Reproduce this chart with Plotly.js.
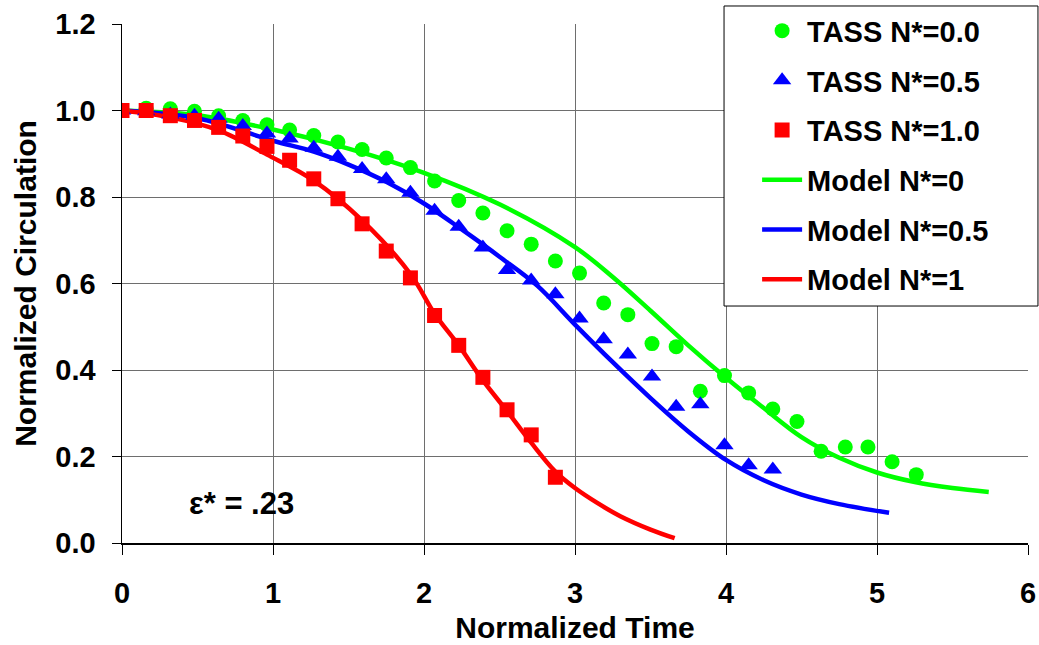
<!DOCTYPE html>
<html>
<head>
<meta charset="utf-8">
<script src="https://cdn.plot.ly/plotly-3.0.1.min.js"></script>
<style>html,body{margin:0;padding:0;background:#fff;}#chart{width:1039px;height:645px;}</style>
</head>
<body>
<div id="chart"></div>
<script>
// TASS simulation samples (normalized time)
const tassTime = [0, 0.16, 0.32, 0.48, 0.64, 0.80, 0.96, 1.11, 1.27, 1.43, 1.59, 1.75, 1.91, 2.07, 2.23, 2.39, 2.55, 2.71, 2.87, 3.03, 3.19, 3.35, 3.51, 3.67, 3.83, 3.99, 4.15, 4.31, 4.47, 4.63, 4.79, 4.94, 5.10, 5.26];
const tassN00 = [1.000, 1.005, 1.004, 0.998, 0.988, 0.977, 0.967, 0.955, 0.942, 0.927, 0.910, 0.890, 0.868, 0.837, 0.792, 0.763, 0.722, 0.691, 0.652, 0.624, 0.555, 0.528, 0.461, 0.454, 0.351, 0.387, 0.347, 0.310, 0.281, 0.212, 0.222, 0.222, 0.188, 0.158];
const tassN05 = [1.000, 0.998, 0.991, 0.988, 0.981, 0.964, 0.947, 0.935, 0.914, 0.893, 0.865, 0.841, 0.810, 0.768, 0.731, 0.683, 0.631, 0.607, 0.575, 0.519, 0.471, 0.436, 0.385, 0.315, 0.321, 0.226, 0.180, 0.170];
const tassN10 = [1.000, 1.000, 0.988, 0.977, 0.961, 0.941, 0.917, 0.885, 0.842, 0.796, 0.738, 0.675, 0.613, 0.526, 0.457, 0.383, 0.308, 0.250, 0.152];

// Model curves
const modelTime0 = [0, 0.5, 1.0, 1.5, 2.0, 2.5, 3.0, 3.25, 3.5, 3.75, 4.0, 4.25, 4.5, 4.75, 5.0, 5.25, 5.5, 5.74];
const modelN0 = [1.000, 0.989, 0.956, 0.912, 0.856, 0.783, 0.684, 0.615, 0.537, 0.457, 0.382, 0.312, 0.245, 0.197, 0.163, 0.141, 0.127, 0.118];
const modelTime05 = [0, 0.5, 1.0, 1.27, 1.5, 1.75, 2.0, 2.25, 2.5, 2.75, 3.0, 3.25, 3.5, 3.75, 4.0, 4.25, 4.5, 4.75, 5.08];
const modelN05 = [1.000, 0.982, 0.930, 0.905, 0.875, 0.835, 0.785, 0.725, 0.662, 0.595, 0.505, 0.418, 0.335, 0.258, 0.192, 0.145, 0.112, 0.090, 0.070];
const modelTime1 = [0, 0.32, 0.64, 0.96, 1.27, 1.59, 1.91, 2.07, 2.23, 2.39, 2.55, 2.71, 2.87, 3.0, 3.15, 3.3, 3.5, 3.66];
const modelN1 = [1.000, 0.984, 0.954, 0.898, 0.838, 0.746, 0.622, 0.530, 0.457, 0.376, 0.305, 0.232, 0.165, 0.127, 0.092, 0.062, 0.031, 0.011];

const xTicks = [0, 1, 2, 3, 4, 5, 6];
const yTicks = [0, 0.2, 0.4, 0.6, 0.8, 1.0, 1.2];

const FONT = '"Liberation Sans", Arial, sans-serif';
const GREEN = '#00ff00', BLUE = '#0000ff', RED = '#ff0000';

const traces = [
  {x: tassTime.slice(0, tassN00.length), y: tassN00, name: 'TASS N*=0.0', mode: 'markers', legendgroup: 'a',
   marker: {symbol: 'circle', size: 15, color: GREEN}},
  {x: tassTime.slice(0, tassN05.length), y: tassN05, name: 'TASS N*=0.5', mode: 'markers', legendgroup: 'b',
   marker: {symbol: 'triangle-up', size: 16, color: BLUE}},
  {x: tassTime.slice(0, tassN10.length), y: tassN10, name: 'TASS N*=1.0', mode: 'markers', legendgroup: 'c',
   marker: {symbol: 'square', size: 15, color: RED}},
  {x: modelTime0, y: modelN0, name: 'Model N*=0', mode: 'lines', legendgroup: 'd',
   line: {color: GREEN, width: 4.5, shape: 'spline'}},
  {x: modelTime05, y: modelN05, name: 'Model N*=0.5', mode: 'lines', legendgroup: 'e',
   line: {color: BLUE, width: 4.5, shape: 'spline'}},
  {x: modelTime1, y: modelN1, name: 'Model N*=1', mode: 'lines', legendgroup: 'f',
   line: {color: RED, width: 4.5, shape: 'spline'}}
];
// draw model lines beneath markers, but keep legend order
const order = [3, 4, 5, 0, 1, 2];
const data = order.map(i => Object.assign({}, traces[i], {legendrank: i + 1}));

const layout = {
  width: 1039, height: 645,
  margin: {l: 122, r: 11, t: 24, b: 102, autoexpand: false},
  paper_bgcolor: '#ffffff', plot_bgcolor: '#ffffff',
  font: {family: FONT, size: 29, color: '#000', weight: 'bold'},
  showlegend: true,
  legend: {
    x: 0.701, y: 1.036, xanchor: 'left', yanchor: 'top',
    bgcolor: 'rgba(0,0,0,0)', borderwidth: 0,
    font: {family: FONT, size: 29, color: '#000', weight: 'bold'},
    traceorder: 'grouped', tracegroupgap: 9, itemwidth: 40
  },
  shapes: [{
    type: 'rect', xref: 'paper', yref: 'paper', layer: 'above',
    x0: 0.6645, x1: 1.011, y0: 0.4566, y1: 1.0347,
    fillcolor: '#ffffff', line: {color: '#000', width: 1}
  }],
  xaxis: {
    range: [0, 6], tickvals: xTicks, ticktext: xTicks.map(String),
    showgrid: true, gridcolor: '#6e6e6e', gridwidth: 1,
    zeroline: false, showline: true, linecolor: '#000', linewidth: 1.5,
    ticks: 'outside', ticklen: 10, tickcolor: '#000', tickwidth: 1,
    tickfont: {family: FONT, size: 29, color: '#000', weight: 'bold'},
    ticklabelstandoff: 14,
    title: {text: 'Normalized Time', font: {family: FONT, size: 30, color: '#000', weight: 'bold'}, standoff: 8},
    automargin: false, fixedrange: true
  },
  yaxis: {
    range: [0, 1.2], tickvals: yTicks, ticktext: yTicks.map(v => v.toFixed(1)),
    showgrid: true, gridcolor: '#6e6e6e', gridwidth: 1,
    zeroline: false, showline: true, linecolor: '#000', linewidth: 1.5,
    ticks: 'outside', ticklen: 9, tickcolor: '#000', tickwidth: 1,
    tickfont: {family: FONT, size: 29, color: '#000', weight: 'bold'},
    ticklabelstandoff: 10,
    title: {text: 'Normalized Circulation', font: {family: FONT, size: 30, color: '#000', weight: 'bold'}, standoff: 10},
    automargin: false, fixedrange: true
  },
  annotations: [{
    x: 0.79, y: 0.091, xref: 'x', yref: 'y', showarrow: false,
    text: 'ε* = .23', font: {family: FONT, size: 31, color: '#000', weight: 'bold'}
  }]
};

Plotly.newPlot('chart', data, layout, {staticPlot: true, displayModeBar: false});
</script>
</body>
</html>
